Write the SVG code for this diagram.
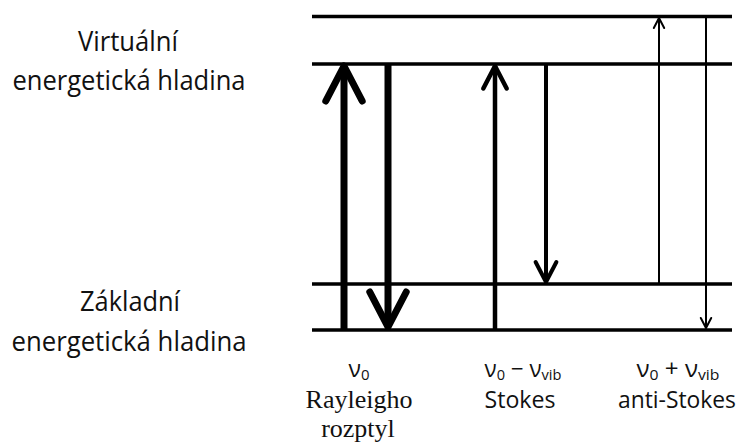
<svg xmlns="http://www.w3.org/2000/svg" width="742" height="444" viewBox="0 0 742 444">
<style>
.lvl{stroke:#000;stroke-width:3.5;fill:none}
.arr{stroke:#000;fill:none;marker-end:url(#ah)}
.lab{font-family:"Open Sans","Liberation Sans",sans-serif;font-size:27px;fill:#111;text-anchor:middle}
.bl{font-family:"Open Sans","Liberation Sans",sans-serif;font-size:24px;fill:#111;text-anchor:middle}
.ser{font-family:"Liberation Serif","Times New Roman",serif;font-size:26px;fill:#111;text-anchor:middle}
.nu{font-family:"Open Sans","Liberation Sans",sans-serif;font-size:23px;fill:#111;text-anchor:middle}
.sub{font-size:15px}
</style>
<defs>
<marker id="ah" markerUnits="strokeWidth" viewBox="-6 -4 8 8" refX="0" refY="0" markerWidth="8" markerHeight="8" orient="auto" overflow="visible">
<path d="M-5,-2.6 L0,0 L-5,2.6" fill="none" stroke="#000" stroke-width="1" stroke-linecap="round" stroke-linejoin="round"/>
</marker>
</defs>
<rect width="742" height="444" fill="#fff"/>
<g id="virtual-level-upper"><line class="lvl" x1="312" y1="16.5" x2="732" y2="16.5"/></g>
<g id="virtual-level"><line class="lvl" x1="312" y1="64" x2="732" y2="64"/></g>
<g id="ground-level-vib"><line class="lvl" x1="312" y1="284" x2="732" y2="284"/></g>
<g id="ground-level"><line class="lvl" x1="312" y1="330" x2="732" y2="330"/></g>
<g id="label-virtual">
<text class="lab" x="128" y="51" textLength="100" lengthAdjust="spacingAndGlyphs">Virtuální</text>
<text class="lab" x="129" y="90" textLength="233" lengthAdjust="spacingAndGlyphs">energetická hladina</text>
</g>
<g id="label-ground">
<text class="lab" x="130" y="311" textLength="100" lengthAdjust="spacingAndGlyphs">Základní</text>
<text class="lab" x="129" y="351" textLength="235" lengthAdjust="spacingAndGlyphs">energetická hladina</text>
</g>
<g id="connectors">
<line class="arr" x1="344" y1="330" x2="344" y2="66" stroke-width="7"/>
<line class="arr" x1="388" y1="64" x2="388" y2="327" stroke-width="7"/>
<line class="arr" x1="495" y1="330" x2="495" y2="66" stroke-width="4.5"/>
<line class="arr" x1="546" y1="64" x2="546" y2="282" stroke-width="4"/>
<line class="arr" x1="659" y1="284" x2="659" y2="18" stroke-width="2"/>
<line class="arr" x1="706" y1="16" x2="706" y2="328" stroke-width="2"/>
</g>
<g id="label-rayleigh">
<text class="nu" x="359" y="377">ν<tspan class="sub" dy="3">0</tspan></text>
<text class="ser" x="359" y="408">Rayleigho</text>
<text class="ser" x="358" y="437">rozptyl</text>
</g>
<g id="label-stokes">
<text class="nu" x="523" y="377" textLength="77" lengthAdjust="spacingAndGlyphs">ν<tspan class="sub" dy="3">0</tspan><tspan dy="-3"> − ν</tspan><tspan class="sub" dy="3">vib</tspan></text>
<text class="bl" x="520" y="408" textLength="71" lengthAdjust="spacingAndGlyphs">Stokes</text>
</g>
<g id="label-antistokes">
<text class="nu" x="678" y="377" textLength="83" lengthAdjust="spacingAndGlyphs">ν<tspan class="sub" dy="3">0</tspan><tspan dy="-3"> + ν</tspan><tspan class="sub" dy="3">vib</tspan></text>
<text class="bl" x="677" y="408" textLength="118" lengthAdjust="spacingAndGlyphs">anti-Stokes</text>
</g>
</svg>
